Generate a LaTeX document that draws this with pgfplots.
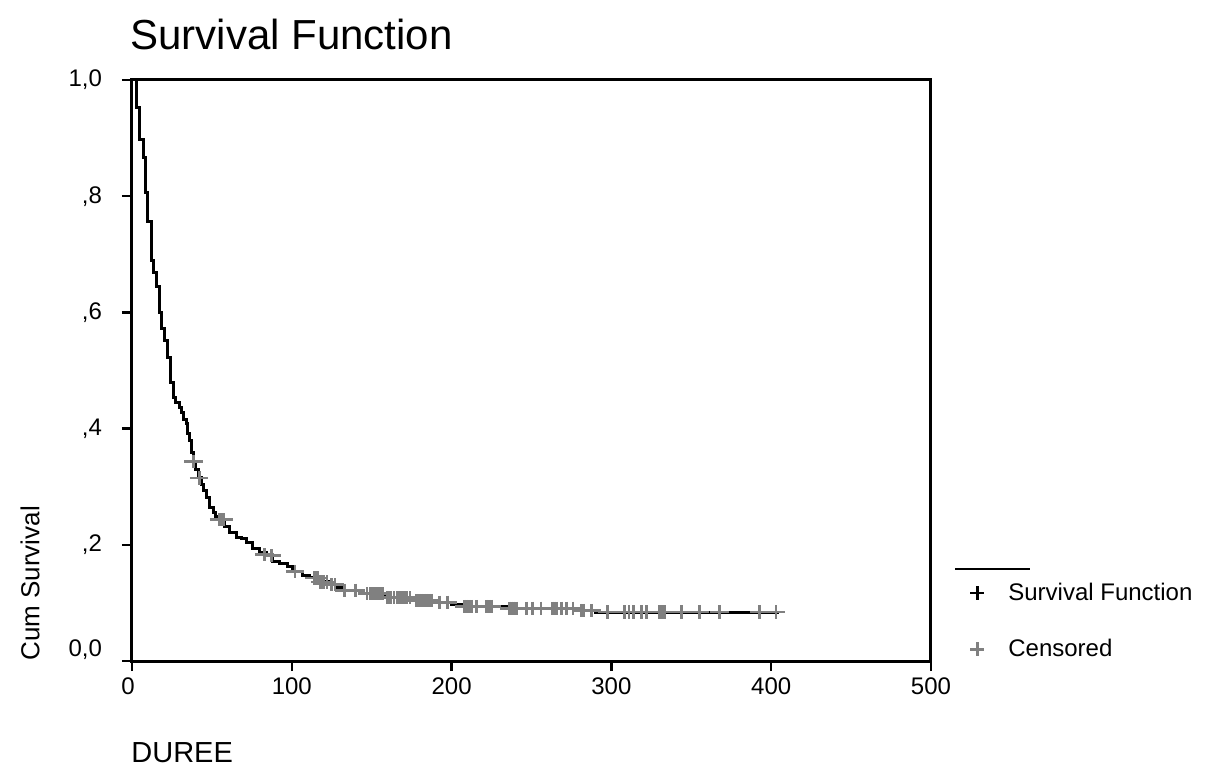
\documentclass[border=0pt]{standalone}
\usepackage{pgfplots}
\pgfplotsset{compat=1.18}
\usepackage{fontspec}
\setmainfont{Liberation Sans}

\definecolor{censgray}{RGB}{128,128,128}

\begin{document}
\begin{tikzpicture}
\begin{axis}[
  at={(0,0)}, anchor=south west,
  scale only axis,
  width=399.5bp, height=290.5bp,
  xmin=0, xmax=500, ymin=0, ymax=1,
  axis line style={line width=1.5bp},
  xtick={0,100,200,300,400,500},
  xticklabels={{\kern-4bp 0},100,200,300,400,500},
  ytick={0,0.2,0.4,0.6,0.8,1},
  yticklabels={\raisebox{5.5bp}[\height][\depth]{0,0},{,2},{,4},{,6},{,8},{1,0}},
  xtick pos=bottom, ytick pos=left,
  tick align=outside,
  major tick length=5bp,
  tick style={line width=1.2bp, black},
  ticklabel style={font=\fontsize{12bp}{14bp}\selectfont},
  yticklabel style={xshift=-6.5bp},
  clip=false,
  legend cell align=left,
  legend style={draw=none, fill=none, at={(1,0)}, anchor=south west,
    xshift=11.5bp, yshift=-3.5bp, row sep=14bp,
    font=\fontsize{12bp}{14bp}\selectfont},
]
% Kaplan-Meier step curve
\addplot[const plot, black, line width=1.5bp,
  legend image code/.code={
    \draw[overlay, black, line width=1.2bp] (-2.5bp,12bp) -- (35bp,12bp);
    \draw[black, mark=+, mark size=3.5bp, mark options={line width=1.2bp}]
      plot coordinates {(8.5bp,0bp)};
    \path[draw=none] (0bp,0bp) -- (22bp,0bp);
  }] coordinates {
(0,1.000) (3.1,0.952) (5.0,0.897) (6.9,0.866) (8.75,0.807) (10.0,0.756)
(12.3,0.690) (13.75,0.668) (15.4,0.644) (17.1,0.599) (18.75,0.573)
(20.4,0.552) (22.1,0.522) (24.2,0.480) (25.8,0.453) (27.5,0.445)
(30,0.437) (31,0.428) (32,0.416) (34.2,0.408) (34.6,0.392) (36.2,0.380)
(37.3,0.358) (38.3,0.343) (40,0.330) (41.9,0.315) (43.2,0.303)
(44.6,0.294) (46.7,0.282) (48.7,0.265) (50.8,0.255) (52.5,0.249)
(54,0.243) (58,0.231) (61,0.222) (65.4,0.213) (68.6,0.211) (71.7,0.204)
(75.6,0.193) (80,0.186) (84,0.181) (88,0.172) (92.5,0.168) (97,0.162)
(100.6,0.154) (107,0.148) (111,0.143) (117.5,0.136) (124,0.131)
(128,0.126) (131,0.122) (145,0.116) (158,0.109) (177,0.104) (189,0.101)
(200,0.097) (206,0.094) (240,0.091) (280,0.087) (290,0.0843) (405,0.0843)
};
\addlegendentry{Survival Function}
% censored cases
\addplot[only marks, mark=+, mark size=3.3bp, censgray,
  mark options={line width=1.4bp, xscale=1.4},
  legend image code/.code={
    \draw[censgray, mark=+, mark size=3.5bp, mark options={line width=1.2bp}]
      plot coordinates {(8.5bp,0bp)};
    \path[draw=none] (0bp,0bp) -- (22bp,0bp);
  }] coordinates {
(38.5,0.343) (42,0.315) (54.5,0.243) (56,0.243) (57.5,0.243)
(83,0.183) (87.5,0.181) (102,0.154) (114,0.143) (116,0.143)
(118,0.136) (120,0.136) (122,0.136) (125,0.131) (127,0.131)
(133,0.122) (140,0.122) (147,0.116) (149,0.116) (151,0.116)
(153,0.116) (155,0.116) (157,0.116) (160,0.109) (162,0.109)
(164,0.109) (166,0.109) (168,0.109) (170,0.109) (172,0.109)
(174,0.109) (178,0.104) (180,0.104) (181.5,0.104) (183,0.104)
(184.5,0.104) (186,0.104) (187.5,0.104) (192.5,0.101) (197.5,0.101)
(208,0.094) (209.5,0.094) (211,0.094) (212.5,0.094) (215.6,0.094)
(222,0.094) (223.5,0.094) (225,0.094) (236,0.091) (237.5,0.091)
(239,0.091) (240.5,0.091) (247,0.091) (250.5,0.091) (256,0.091)
(263,0.091) (264.5,0.091) (266,0.091) (269,0.091) (272,0.091)
(276,0.091) (281,0.087) (282.5,0.087) (287.5,0.087) (297.5,0.0843)
(308,0.0843) (311,0.0843) (314,0.0843) (319,0.0843) (322,0.0843)
(330,0.0843) (331.5,0.0843) (333,0.0843) (344,0.0843) (355,0.0843)
(367.5,0.0843) (392.5,0.0843) (403,0.0843)
};
\addlegendentry{Censored}

\node[anchor=base west, inner sep=0pt, font=\fontsize{21bp}{25bp}\selectfont]
  at ([xshift=-1bp, yshift=15bp]rel axis cs:0,1) {Survival Function};
\node[rotate=90, anchor=west, inner sep=0pt, font=\fontsize{13bp}{15bp}\selectfont]
  at ([xshift=-51bp]rel axis cs:0,0) {Cum Survival};
\node[anchor=base west, inner sep=0pt, font=\fontsize{14.5bp}{17bp}\selectfont]
  at ([xshift=-0.5bp, yshift=-50.5bp]rel axis cs:0,0) {DUREE};
\end{axis}
\path (-66bp,-56.5bp) rectangle (537bp,330.5bp);
\end{tikzpicture}
\end{document}
